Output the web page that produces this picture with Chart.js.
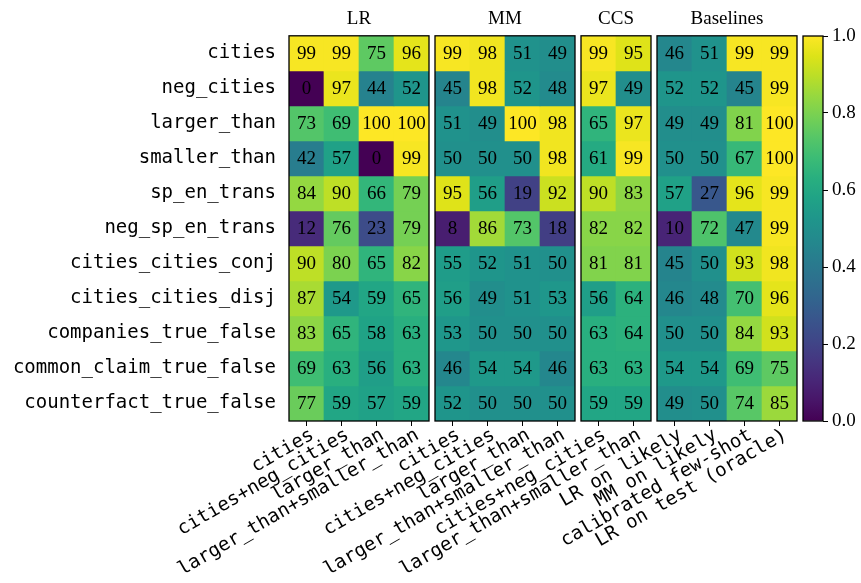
<!DOCTYPE html>
<html>
<head>
<meta charset="utf-8">
<script src="https://cdn.jsdelivr.net/npm/chart.js@4.4.1/dist/chart.umd.min.js"></script>
<style>
  html, body { margin: 0; padding: 0; background: #fff; }
  #wrap { position: relative; width: 861px; height: 583px; }
  #wrap canvas { position: absolute; left: 0; top: 0; }
</style>
</head>
<body>
<div id="wrap">
  <canvas id="lrChart" width="861" height="583"></canvas>
  <canvas id="mmChart" width="861" height="583"></canvas>
  <canvas id="ccsChart" width="861" height="583"></canvas>
  <canvas id="baseChart" width="861" height="583"></canvas>
  <canvas id="cbarChart" width="861" height="583"></canvas>
</div>
<script>
// data
const rowLabels = ['cities', 'neg_cities', 'larger_than', 'smaller_than', 'sp_en_trans',
  'neg_sp_en_trans', 'cities_cities_conj', 'cities_cities_disj', 'companies_true_false',
  'common_claim_true_false', 'counterfact_true_false'];

const lrCols = ['cities', 'cities+neg_cities', 'larger_than', 'larger_than+smaller_than'];
const mmCols = ['cities', 'cities+neg_cities', 'larger_than', 'larger_than+smaller_than'];
const ccsCols = ['cities+neg_cities', 'larger_than+smaller_than'];
const baselineCols = ['LR on likely', 'MM on likely', 'calibrated few-shot', 'LR on test (oracle)'];

const lrValues = [
  [99, 99, 75, 96], [0, 97, 44, 52], [73, 69, 100, 100], [42, 57, 0, 99],
  [84, 90, 66, 79], [12, 76, 23, 79], [90, 80, 65, 82], [87, 54, 59, 65],
  [83, 65, 58, 63], [69, 63, 56, 63], [77, 59, 57, 59]
];
const mmValues = [
  [99, 98, 51, 49], [45, 98, 52, 48], [51, 49, 100, 98], [50, 50, 50, 98],
  [95, 56, 19, 92], [8, 86, 73, 18], [55, 52, 51, 50], [56, 49, 51, 53],
  [53, 50, 50, 50], [46, 54, 54, 46], [52, 50, 50, 50]
];
const ccsValues = [
  [99, 95], [97, 49], [65, 97], [61, 99], [90, 83], [82, 82],
  [81, 81], [56, 64], [63, 64], [63, 63], [59, 59]
];
const baselineValues = [
  [46, 51, 99, 99], [52, 52, 45, 99], [49, 49, 81, 100], [50, 50, 67, 100],
  [57, 27, 96, 99], [10, 72, 47, 99], [45, 50, 93, 98], [46, 48, 70, 96],
  [50, 50, 84, 93], [54, 54, 69, 75], [49, 50, 74, 85]
];
const colorbarTicks = [0, 0.2, 0.4, 0.6, 0.8, 1.0];

// viridis colormap (20 stops)
const viridisStops = ['#440154', '#481568', '#482677', '#453781', '#3F4788', '#39558C',
  '#32648E', '#2D718E', '#287D8E', '#238A8D', '#1F968B', '#20A386', '#29AF7F', '#3CBC75',
  '#56C667', '#75D054', '#95D840', '#BADE28', '#DDE318', '#FDE725'];

function hexToRgb(h) {
  return [parseInt(h.slice(1, 3), 16), parseInt(h.slice(3, 5), 16), parseInt(h.slice(5, 7), 16)];
}

function viridis(t) {
  t = Math.max(0, Math.min(1, t));
  const pos = t * (viridisStops.length - 1);
  const i = Math.min(Math.floor(pos), viridisStops.length - 2);
  const f = pos - i;
  const a = hexToRgb(viridisStops[i]), b = hexToRgb(viridisStops[i + 1]);
  const c = a.map((v, k) => Math.round(v + (b[k] - v) * f));
  return `rgb(${c[0]}, ${c[1]}, ${c[2]})`;
}

const serif = 'Liberation Serif, Times New Roman, serif';
const mono = 'DejaVu Sans Mono, monospace';
const W = 861, H = 583;
const areaTop = 36, areaBottom = 421;

// frame around each axes
const framePlugin = {
  id: 'frame',
  afterDatasetsDraw(chart) {
    const { ctx, chartArea: a } = chart;
    ctx.save();
    ctx.strokeStyle = '#000';
    ctx.lineWidth = 1.3;
    ctx.strokeRect(a.left, a.top, a.right - a.left, a.bottom - a.top);
    ctx.restore();
  }
};

// numbers inside cells
const cellTextPlugin = {
  id: 'cellText',
  afterDatasetsDraw(chart, args, opts) {
    if (!opts.values) return;
    const { ctx } = chart;
    ctx.save();
    ctx.font = `19px ${serif}`;
    ctx.fillStyle = '#000';
    ctx.textAlign = 'center';
    ctx.textBaseline = 'middle';
    opts.values.forEach((row, r) => {
      const meta = chart.getDatasetMeta(r);
      meta.data.forEach((bar, c) => {
        ctx.fillText(String(row[c]), bar.x, (bar.y + bar.base) / 2 + 1);
      });
    });
    ctx.restore();
  }
};

function makePanel(id, title, cols, values, left, right, showRows) {
  const datasets = values.map((row, r) => ({
    data: row.map(() => [r - 0.5, r + 0.5]),
    backgroundColor: row.map(v => viridis(v / 100)),
    borderWidth: 0,
    grouped: false,
    barPercentage: 1,
    categoryPercentage: 1
  }));

  new Chart(document.getElementById(id), {
    type: 'bar',
    data: { labels: cols, datasets: datasets },
    plugins: [framePlugin, cellTextPlugin],
    options: {
      responsive: false,
      animation: false,
      layout: {
        padding: { left: showRows ? 0 : left, right: W - right, top: 0, bottom: 0 }
      },
      plugins: {
        legend: { display: false },
        tooltip: { enabled: false },
        title: {
          display: true,
          text: title,
          fullSize: false,
          color: '#000',
          font: { family: serif, size: 19, weight: 'normal' },
          padding: { top: 8, bottom: 5 }
        },
        cellText: { values: values }
      },
      scales: {
        x: {
          grid: { display: true, drawOnChartArea: false, drawTicks: true, tickLength: 5, color: '#000', offset: false },
          border: { display: false },
          ticks: {
            autoSkip: false, minRotation: 30, maxRotation: 30, padding: -2, labelOffset: 6,
            color: '#000', font: { family: mono, size: 19 }
          },
          afterFit: scale => { scale.height = H - areaBottom; }
        },
        y: {
          display: showRows,
          reverse: true,
          min: -0.5,
          max: values.length - 0.5,
          grid: { display: false, drawTicks: false },
          border: { display: false },
          afterBuildTicks: scale => { scale.ticks = rowLabels.map((_, i) => ({ value: i })); },
          ticks: {
            padding: 13,
            color: '#000',
            font: { family: mono, size: 19 },
            callback: v => rowLabels[v]
          },
          afterFit: scale => { scale.width = showRows ? left : 0; }
        }
      }
    }
  });
}

makePanel('lrChart', 'LR', lrCols, lrValues, 289, 429, true);
makePanel('mmChart', 'MM', mmCols, mmValues, 435, 575, false);
makePanel('ccsChart', 'CCS', ccsCols, ccsValues, 581, 651, false);
makePanel('baseChart', 'Baselines', baselineCols, baselineValues, 657, 797, false);

// colorbar
const cbLeft = 803, cbRight = 823;
new Chart(document.getElementById('cbarChart'), {
  type: 'bar',
  data: {
    labels: [''],
    datasets: [{
      data: [[0, 1]],
      borderWidth: 0,
      barPercentage: 1,
      categoryPercentage: 1,
      backgroundColor: context => {
        const chart = context.chart;
        if (!chart.chartArea) return '#21918c';
        const y = chart.scales.y;
        const g = chart.ctx.createLinearGradient(0, y.getPixelForValue(0), 0, y.getPixelForValue(1));
        viridisStops.forEach((c, i) => g.addColorStop(i / (viridisStops.length - 1), c));
        return g;
      }
    }]
  },
  plugins: [framePlugin],
  options: {
    responsive: false,
    animation: false,
    layout: { padding: { left: cbLeft, right: 0, top: areaTop, bottom: H - areaBottom } },
    plugins: { legend: { display: false }, tooltip: { enabled: false } },
    scales: {
      x: { display: false },
      y: {
        position: 'right',
        min: 0,
        max: 1,
        grid: { display: true, drawOnChartArea: false, drawTicks: true, tickLength: 5, color: '#000' },
        border: { display: false },
        afterBuildTicks: scale => { scale.ticks = colorbarTicks.map(v => ({ value: v })); },
        ticks: {
          padding: 4,
          color: '#000',
          font: { family: serif, size: 19 },
          callback: v => v.toFixed(1)
        },
        afterFit: scale => { scale.width = W - cbRight; }
      }
    }
  }
});
</script>
</body>
</html>
